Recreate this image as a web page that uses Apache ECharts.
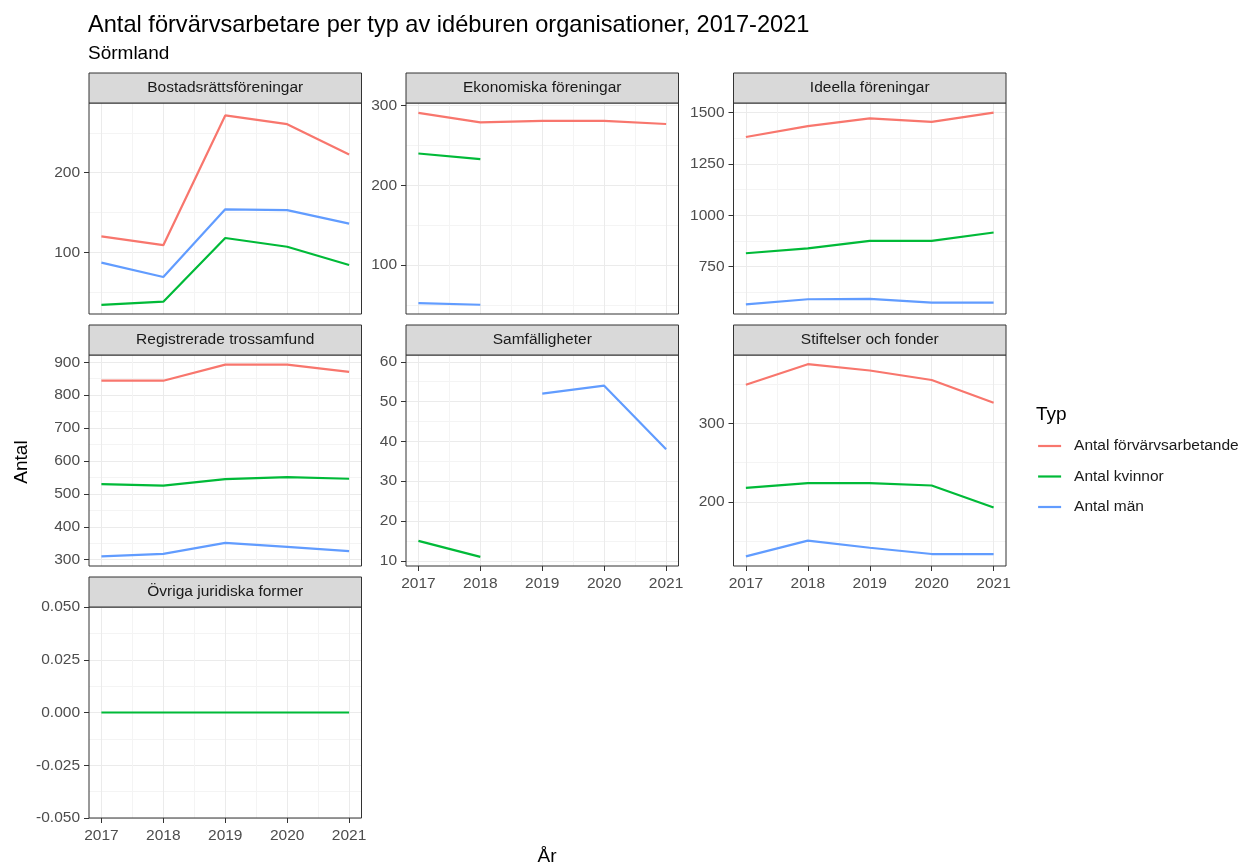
<!DOCTYPE html>
<html>
<head>
<meta charset="utf-8">
<script src="https://cdn.jsdelivr.net/npm/echarts@6/dist/echarts.min.js"></script>
<style>
  html, body { margin: 0; padding: 0; background: #fff; }
  #chart { width: 1257px; height: 867px; }
</style>
</head>
<body>
<div id="chart"></div>
<script>
const years = [2017, 2018, 2019, 2020, 2021];
const typer = ['Antal förvärvsarbetande', 'Antal kvinnor', 'Antal män'];
const paneler = [
  'Bostadsrättsföreningar', 'Ekonomiska föreningar', 'Ideella föreningar',
  'Registrerade trossamfund', 'Samfälligheter', 'Stiftelser och fonder',
  'Övriga juridiska former'
];

// en rad per panel, samma ordning som paneler (null = saknas)
const forvarvsarbetande = [
  [120, 109, 272, 261, 223],
  [291, 279, 281, 281, 277],
  [1381, 1434, 1472, 1455, 1500],
  [844, 844, 893, 893, 871],
  [null, null, null, null, null],
  [349, 375, 367, 355, 326],
  [null, null, null, null, null]
];
const kvinnor = [
  [34, 38, 118, 107, 84],
  [240, 233, null, null, null],
  [815, 839, 875, 875, 916],
  [530, 525, 545, 551, 546],
  [15, 11, null, null, null],
  [218, 224, 224, 221, 193],
  [0, 0, 0, 0, 0]
];
const man = [
  [87, 69, 154, 153, 136],
  [52, 50, null, null, null],
  [566, 591, 593, 575, 575],
  [310, 318, 351, 339, 326],
  [null, null, 52, 54, 38],
  [131, 151, 142, 134, 134],
  [null, null, null, null, null]
];

// y-axelns skalsteg per panel
const yTicks = [
  [100, 200],
  [100, 200, 300],
  [750, 1000, 1250, 1500],
  [300, 400, 500, 600, 700, 800, 900],
  [10, 20, 30, 40, 50, 60],
  [200, 300],
  [-0.05, -0.025, 0, 0.025, 0.05]
];
const yRange = [
  [22.5, 287.6],
  [38.4, 303.4],
  [519.3, 1546.7],
  [280.9, 922.1],
  [8.7, 61.7],
  [118.8, 386.7],
  [-0.05, 0.05]
];

const colors = ['#F8766D', '#00BA38', '#619CFF'];
const serier = [forvarvsarbetande, kvinnor, man];

// layout
const colLeft = [89, 406, 733.5];
const colW = 272.5;
const rowTop = [103, 355, 607];
const plotH = 211;
const stripH = 30;
const xMin = 2016.8, xMax = 2021.2;
const font = "'Liberation Sans', Arial, sans-serif";
const major = '#ebebeb', minor = '#f4f4f4';

let ec = echarts.init(document.getElementById('chart'));

let grids = [], xAxes = [], yAxes = [], series = [], graphics = [];

function halfSteps(ticks, range) {
  let step = ticks.length > 1 ? ticks[1] - ticks[0] : 100;
  let out = [];
  for (let i = -1; i < ticks.length; i++) {
    let v = (i < 0 ? ticks[0] - step : ticks[i]) + step / 2;
    if (v >= range[0] && v <= range[1]) out.push(v);
  }
  return out;
}

paneler.forEach(function (namn, p) {
  let col = p % 3, row = Math.floor(p / 3);
  let left = colLeft[col], top = rowTop[row];
  let bottomPanel = p >= 4;

  grids.push({ left: left, top: top, width: colW, height: plotH, outerBoundsMode: 'none', containLabel: false });

  let xHalf = years.slice(0, 4).map(function (y) { return y + 0.5; });

  xAxes.push({
    gridIndex: p, type: 'value', min: xMin, max: xMax, position: 'bottom',
    axisLine: { show: false, onZero: false },
    axisTick: { show: bottomPanel, customValues: years, length: 5, lineStyle: { color: '#333' } },
    axisLabel: {
      show: bottomPanel, customValues: years, margin: 10, fontSize: 15.5, color: '#4d4d4d', fontFamily: font,
      formatter: function (v) { return String(v); }
    },
    splitLine: { show: true, lineStyle: { color: major, width: 1 } }
  });
  xAxes.push({
    gridIndex: p, type: 'value', min: xMin, max: xMax, position: 'bottom',
    axisLine: { show: false, onZero: false },
    axisTick: { show: false, customValues: xHalf },
    axisLabel: { show: false, customValues: xHalf },
    splitLine: { show: true, lineStyle: { color: minor, width: 1 } }
  });

  let yt = yTicks[p], yr = yRange[p];
  let yHalf = halfSteps(yt, yr);
  yAxes.push({
    gridIndex: p, type: 'value', min: yr[0], max: yr[1], position: 'left',
    axisLine: { show: false, onZero: false },
    axisTick: { show: true, customValues: yt, length: 5, lineStyle: { color: '#333' } },
    axisLabel: {
      customValues: yt, margin: 9, fontSize: 15.5, color: '#4d4d4d', fontFamily: font,
      formatter: function (v) { return p === 6 ? v.toFixed(3) : String(v); }
    },
    splitLine: { show: true, lineStyle: { color: major, width: 1 } }
  });
  yAxes.push({
    gridIndex: p, type: 'value', min: yr[0], max: yr[1], position: 'left',
    axisLine: { show: false, onZero: false },
    axisTick: { show: false, customValues: yHalf },
    axisLabel: { show: false, customValues: yHalf },
    splitLine: { show: true, lineStyle: { color: minor, width: 1 } }
  });

  serier.forEach(function (s, k) {
    series.push({
      type: 'line',
      name: typer[k],
      xAxisIndex: 2 * p,
      yAxisIndex: 2 * p,
      symbol: 'none',
      silent: true,
      z: 3,
      lineStyle: { color: colors[k], width: 2.2 },
      itemStyle: { color: colors[k] },
      data: s[p].map(function (v, i) { return [years[i], v == null ? '-' : v]; })
    });
  });

  // ram runt panelen
  graphics.push({
    type: 'rect', z: 100,
    shape: { x: left, y: top, width: colW, height: plotH },
    style: { fill: 'none', stroke: '#333', lineWidth: 1 }
  });
  // rubrikremsa
  graphics.push({
    type: 'rect', z: 100,
    shape: { x: left, y: top - stripH, width: colW, height: stripH },
    style: { fill: '#d9d9d9', stroke: '#333', lineWidth: 1 }
  });
  graphics.push({
    type: 'text', z: 101,
    x: left + colW / 2, y: top - stripH / 2,
    style: { text: namn, font: '15.5px ' + font, fill: '#1a1a1a', align: 'center', verticalAlign: 'middle' }
  });
});

graphics.push(
  { type: 'text', x: 88, y: 25, style: { text: 'Antal förvärvsarbetare per typ av idéburen organisationer, 2017-2021', font: '23.6px ' + font, fill: '#000', verticalAlign: 'middle' } },
  { type: 'text', x: 88, y: 54, style: { text: 'Sörmland', font: '19px ' + font, fill: '#000', verticalAlign: 'middle' } },
  { type: 'text', x: 22, y: 462, rotation: Math.PI / 2, style: { text: 'Antal', font: '19px ' + font, fill: '#000', align: 'center', verticalAlign: 'middle' } },
  { type: 'text', x: 547, y: 857, style: { text: 'År', font: '19px ' + font, fill: '#000', align: 'center', verticalAlign: 'middle' } },
  { type: 'text', x: 1036, y: 415, style: { text: 'Typ', font: '19px ' + font, fill: '#000', verticalAlign: 'middle' } }
);

let option = {
  animation: false,
  textStyle: { fontFamily: font },
  grid: grids,
  xAxis: xAxes,
  yAxis: yAxes,
  legend: {
    orient: 'vertical',
    left: 1037,
    top: 436,
    padding: 0,
    itemWidth: 23,
    itemHeight: 20,
    itemGap: 10.5,
    selectedMode: false,
    data: typer,
    itemStyle: { opacity: 0 },
    lineStyle: { width: 2.2 },
    textStyle: { fontSize: 15.5, color: '#1a1a1a', fontFamily: font, lineHeight: 20, padding: [0, 0, 0, 8] }
  },
  graphic: graphics,
  series: series
};

ec.setOption(option);
</script>
</body>
</html>
